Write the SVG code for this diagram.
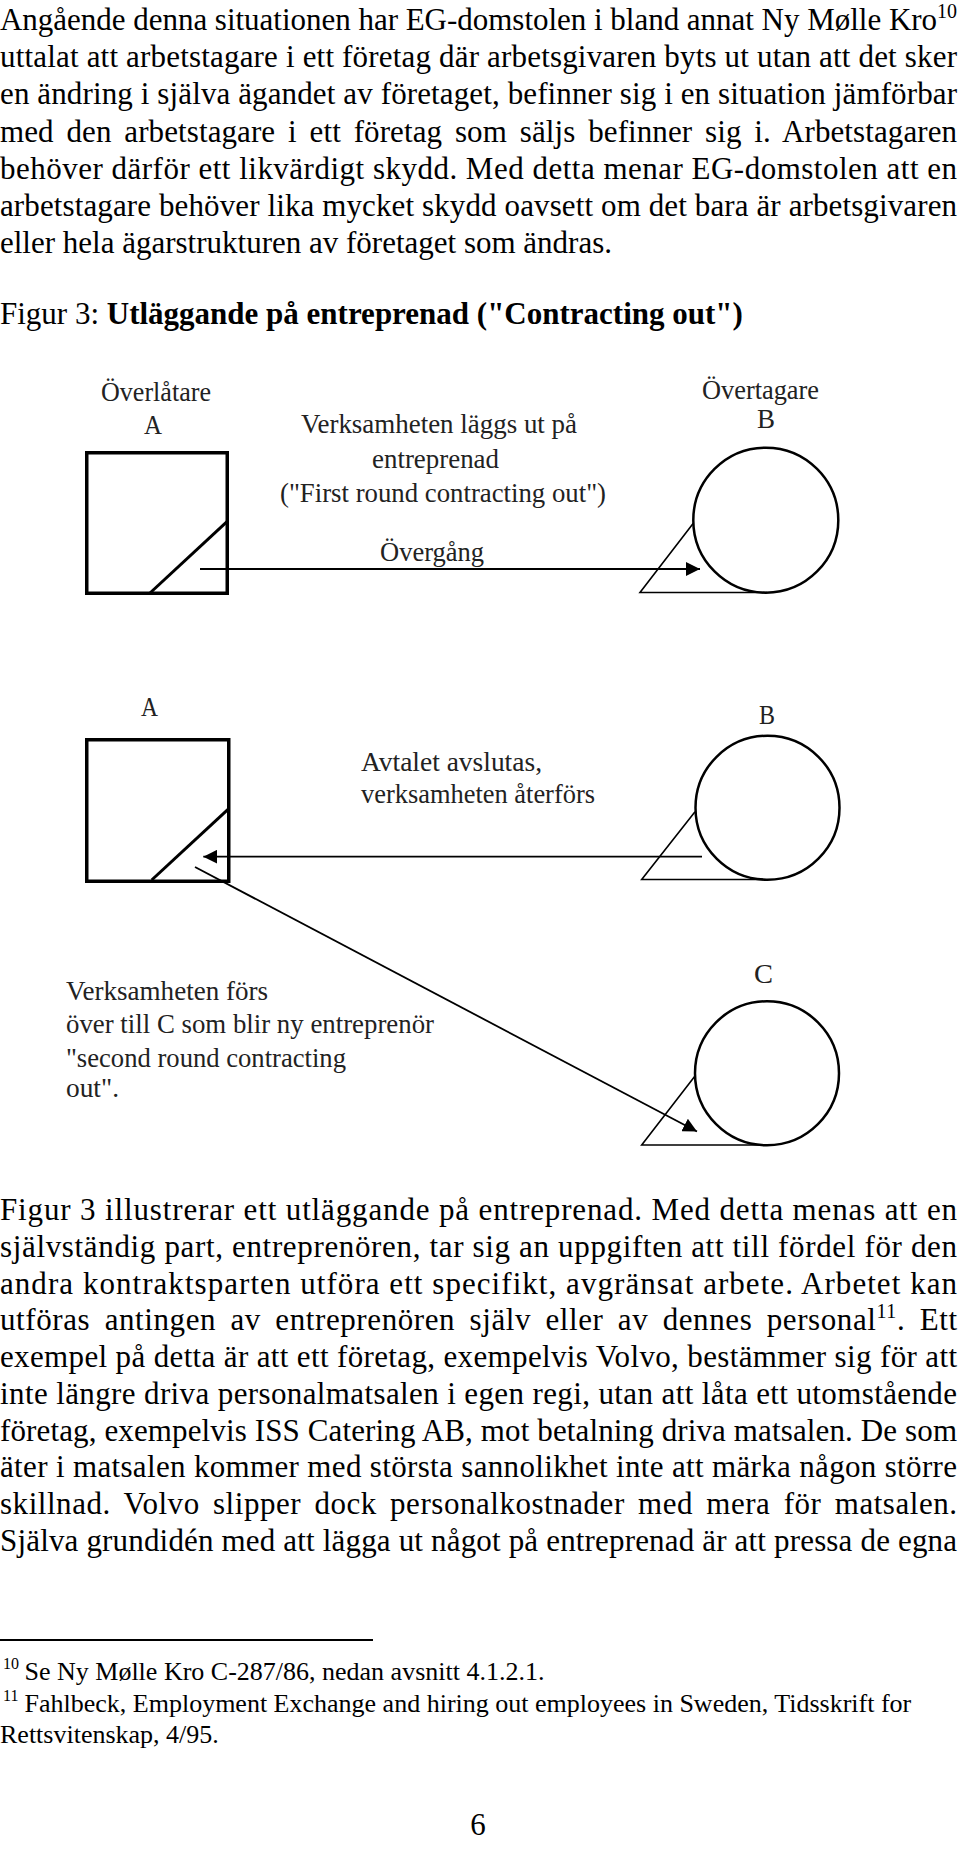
<svg xmlns="http://www.w3.org/2000/svg" width="960" height="1865" viewBox="0 0 960 1865">
<style>
.b{font-family:"Liberation Serif","Times New Roman",serif;font-size:31px;fill:#000}
.fn{font-family:"Liberation Serif","Times New Roman",serif;font-size:26px;fill:#000}
.lb{font-family:"Liberation Serif","Times New Roman",serif;font-size:28px;fill:#222}
.sq{fill:none;stroke:#000;stroke-width:3.5}
.dg{fill:none;stroke:#000;stroke-width:3}
.ci{fill:none;stroke:#000;stroke-width:2.5}
.tr{fill:none;stroke:#000;stroke-width:1.6}
.ar{fill:none;stroke:#000;stroke-width:1.8}
</style>
<defs>
<marker id="ah" viewBox="0 0 14 14" refX="14" refY="7" markerWidth="14" markerHeight="14" markerUnits="userSpaceOnUse" orient="auto"><path d="M0,0 L14,7 L0,14 z" fill="#000"/></marker>
</defs>
<rect width="960" height="1865" fill="#fff"/>
<g id="paragraph1">
<text class="b" x="0" y="30" textLength="957" lengthAdjust="spacing">Angående denna situationen har EG-domstolen i bland annat Ny Mølle Kro<tspan font-size="20" dy="-12">10</tspan></text>
<text class="b" x="0" y="67.2" textLength="957" lengthAdjust="spacing">uttalat att arbetstagare i ett företag där arbetsgivaren byts ut utan att det sker</text>
<text class="b" x="0" y="104.4" textLength="957" lengthAdjust="spacing">en ändring i själva ägandet av företaget, befinner sig i en situation jämförbar</text>
<text class="b" x="0" y="141.6" textLength="957" lengthAdjust="spacing" word-spacing="5">med den arbetstagare i ett företag som säljs befinner sig i. Arbetstagaren</text>
<text class="b" x="0" y="178.8" textLength="957" lengthAdjust="spacing">behöver därför ett likvärdigt skydd. Med detta menar EG-domstolen att en</text>
<text class="b" x="0" y="216" textLength="957" lengthAdjust="spacing">arbetstagare behöver lika mycket skydd oavsett om det bara är arbetsgivaren</text>
<text class="b" x="0" y="253.2">eller hela ägarstrukturen av företaget som ändras.</text>
<text class="b" x="0" y="324">Figur 3: <tspan font-weight="bold">Utläggande på entreprenad ("Contracting out")</tspan></text>
</g>
<g id="node-A1">
<rect class="sq" x="86.75" y="452.75" width="140.5" height="140.5"/>
<line class="dg" x1="150" y1="593" x2="227" y2="521.7"/>
<text class="lb" x="101" y="401" textLength="110" lengthAdjust="spacingAndGlyphs">Överlåtare</text>
<text class="lb" x="144" y="434" textLength="18" lengthAdjust="spacingAndGlyphs">A</text>
</g>
<g id="node-B1">
<circle class="ci" cx="765.8" cy="520.2" r="72.5"/>
<polyline class="tr" points="693.3,523.3 640,592.5 767,592.5"/>
<text class="lb" x="702" y="399" textLength="117" lengthAdjust="spacingAndGlyphs">Övertagare</text>
<text class="lb" x="757" y="427.5" textLength="18" lengthAdjust="spacingAndGlyphs">B</text>
</g>
<g id="label-first-round">
<text class="lb" x="301" y="432.5" textLength="276" lengthAdjust="spacingAndGlyphs">Verksamheten läggs ut på</text>
<text class="lb" x="372" y="467.5" textLength="127" lengthAdjust="spacingAndGlyphs">entreprenad</text>
<text class="lb" x="280" y="501.5" textLength="326" lengthAdjust="spacingAndGlyphs">("First round contracting out")</text>
<text class="lb" x="380" y="561" textLength="104" lengthAdjust="spacingAndGlyphs">Övergång</text>
</g>
<g id="node-A2">
<rect class="sq" x="86.75" y="739.75" width="142" height="141.5"/>
<line class="dg" x1="151.7" y1="880" x2="228" y2="809.3"/>
<text class="lb" x="141" y="716" textLength="17" lengthAdjust="spacingAndGlyphs">A</text>
</g>
<g id="node-B2">
<circle class="ci" cx="767.5" cy="807.7" r="72"/>
<polyline class="tr" points="695,811.7 641.7,879.5 765.5,879.5"/>
<text class="lb" x="759" y="724.3" textLength="16" lengthAdjust="spacingAndGlyphs">B</text>
</g>
<g id="label-return">
<text class="lb" x="361" y="771" textLength="181" lengthAdjust="spacingAndGlyphs">Avtalet avslutas,</text>
<text class="lb" x="361" y="803.3" textLength="234" lengthAdjust="spacingAndGlyphs">verksamheten återförs</text>
</g>
<g id="node-C">
<circle class="ci" cx="767" cy="1073.3" r="72"/>
<polyline class="tr" points="695,1076 641.7,1145 767,1145"/>
<text class="lb" x="754" y="982.7" textLength="19" lengthAdjust="spacingAndGlyphs">C</text>
</g>
<g id="label-second-round">
<text class="lb" x="66" y="1000.3" textLength="202" lengthAdjust="spacingAndGlyphs">Verksamheten förs</text>
<text class="lb" x="66" y="1032.7" textLength="368" lengthAdjust="spacingAndGlyphs">över till C som blir ny entreprenör</text>
<text class="lb" x="66" y="1066.5" textLength="280" lengthAdjust="spacingAndGlyphs">"second round contracting</text>
<text class="lb" x="66" y="1096.7" textLength="53" lengthAdjust="spacingAndGlyphs">out".</text>
</g>
<g id="connectors">
<line class="ar" x1="200" y1="569" x2="700" y2="569" marker-end="url(#ah)"/>
<line class="ar" x1="702" y1="856.7" x2="203.3" y2="856.7" marker-end="url(#ah)"/>
<line class="ar" x1="195" y1="867" x2="697" y2="1131.5" marker-end="url(#ah)"/>
</g>
<g id="paragraph2">
<text class="b" x="0" y="1220.3" textLength="957" lengthAdjust="spacing">Figur 3 illustrerar ett utläggande på entreprenad. Med detta menas att en</text>
<text class="b" x="0" y="1257" textLength="957" lengthAdjust="spacing">självständig part, entreprenören, tar sig an uppgiften att till fördel för den</text>
<text class="b" x="0" y="1293.7" textLength="957" lengthAdjust="spacing">andra kontraktsparten utföra ett specifikt, avgränsat arbete. Arbetet kan</text>
<text class="b" x="0" y="1330.4" textLength="957" lengthAdjust="spacing" word-spacing="6">utföras antingen av entreprenören själv eller av dennes personal<tspan font-size="20" dy="-12">11</tspan><tspan dy="12">. Ett</tspan></text>
<text class="b" x="0" y="1367.1" textLength="957" lengthAdjust="spacing">exempel på detta är att ett företag, exempelvis Volvo, bestämmer sig för att</text>
<text class="b" x="0" y="1403.8" textLength="957" lengthAdjust="spacing">inte längre driva personalmatsalen i egen regi, utan att låta ett utomstående</text>
<text class="b" x="0" y="1440.5" textLength="957" lengthAdjust="spacing">företag, exempelvis ISS Catering AB, mot betalning driva matsalen. De som</text>
<text class="b" x="0" y="1477.2" textLength="957" lengthAdjust="spacing">äter i matsalen kommer med största sannolikhet inte att märka någon större</text>
<text class="b" x="0" y="1513.9" textLength="957" lengthAdjust="spacing" word-spacing="5">skillnad. Volvo slipper dock personalkostnader med mera för matsalen.</text>
<text class="b" x="0" y="1550.6" textLength="957" lengthAdjust="spacing">Själva grundidén med att lägga ut något på entreprenad är att pressa de egna</text>
</g>
<g id="footnotes">
<line x1="0" y1="1640" x2="373" y2="1640" stroke="#000" stroke-width="2"/>
<text class="fn" x="3" y="1680"><tspan font-size="16" dy="-11">10</tspan><tspan x="24.5" dy="11">Se Ny Mølle Kro C-287/86, nedan avsnitt 4.1.2.1.</tspan></text>
<text class="fn" x="3" y="1712"><tspan font-size="16" dy="-11">11</tspan><tspan x="24.5" dy="11">Fahlbeck, Employment Exchange and hiring out employees in Sweden, Tidsskrift for</tspan></text>
<text class="fn" x="0" y="1743">Rettsvitenskap, 4/95.</text>
<text class="b" x="478" y="1835" text-anchor="middle">6</text>
</g>
</svg>
